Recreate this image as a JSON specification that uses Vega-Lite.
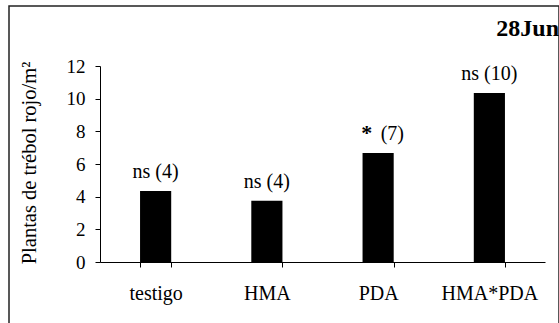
{
  "$schema": "https://vega.github.io/schema/vega-lite/v6.json",
  "width": 550,
  "height": 319,
  "autosize": {"type": "none"},
  "padding": {"left": 9, "top": 6, "right": 0, "bottom": -2},
  "background": "white",
  "config": {
    "view": {"stroke": "#222222", "strokeWidth": 1.5},
    "font": "Times New Roman, Liberation Serif, serif",
    "axis": {"grid": false, "domainColor": "black", "tickColor": "black", "labelColor": "black", "titleColor": "black", "labelFont": "Times New Roman, Liberation Serif, serif", "titleFont": "Times New Roman, Liberation Serif, serif", "domainWidth": 1, "tickWidth": 1}
  },
  "title": {"text": "28Jun", "anchor": "end", "frame": "group", "fontSize": 24, "fontWeight": "bold", "font": "Times New Roman, Liberation Serif, serif", "color": "black", "baseline": "alphabetic", "offset": -29, "dy": 25},
  "data": {"values": [
    {"tratamiento": "testigo", "plantas": 4.35, "etiqueta": "ns (4)", "sig": ""},
    {"tratamiento": "HMA", "plantas": 3.75, "etiqueta": "ns (4)", "sig": ""},
    {"tratamiento": "PDA", "plantas": 6.67, "etiqueta": "(7)", "sig": "*"},
    {"tratamiento": "HMA*PDA", "plantas": 10.35, "etiqueta": "ns (10)", "sig": ""}
  ]},
  "encoding": {
    "x": {
      "field": "tratamiento", "type": "nominal",
      "sort": ["testigo", "HMA", "PDA", "HMA*PDA"],
      "scale": {"range": [91, 536], "paddingInner": 0.72, "paddingOuter": 0.36},
      "axis": {"title": null, "tickBand": "extent", "tickSize": 5, "labelFontSize": 20, "labelBaseline": "alphabetic", "labelPadding": 32, "labelAngle": 0, "offset": -63}
    },
    "y": {
      "field": "plantas", "type": "quantitative",
      "scale": {"domain": [0, 12], "nice": false, "range": [256, 60]},
      "axis": {"title": "Plantas de trébol rojo/m²", "values": [0, 2, 4, 6, 8, 10, 12], "offset": -91, "tickSize": 5, "labelPadding": 10, "labelFontSize": 19, "titleFontSize": 20.5, "titleFontWeight": "normal", "titleX": -65, "titleY": 156.5, "titleBaseline": "alphabetic", "titleAngle": -90, "titleAlign": "center"}
    }
  },
  "layer": [
    {"mark": {"type": "bar", "color": "black"}},
    {
      "transform": [{"filter": "datum.sig == ''"}],
      "mark": {"type": "text", "dy": -13, "baseline": "alphabetic", "fontSize": 20, "font": "Times New Roman, Liberation Serif, serif", "color": "black"},
      "encoding": {"text": {"field": "etiqueta"}}
    },
    {
      "transform": [{"filter": "datum.sig != ''"}],
      "mark": {"type": "text", "align": "left", "dx": 2.5, "dy": -13, "baseline": "alphabetic", "fontSize": 20, "font": "Times New Roman, Liberation Serif, serif", "color": "black"},
      "encoding": {"text": {"field": "etiqueta"}}
    },
    {
      "transform": [{"filter": "datum.sig != ''"}],
      "mark": {"type": "text", "align": "right", "dx": -6, "dy": -13, "baseline": "alphabetic", "fontSize": 22, "fontWeight": "bold", "font": "Times New Roman, Liberation Serif, serif", "color": "black"},
      "encoding": {"text": {"field": "sig"}}
    }
  ]
}
